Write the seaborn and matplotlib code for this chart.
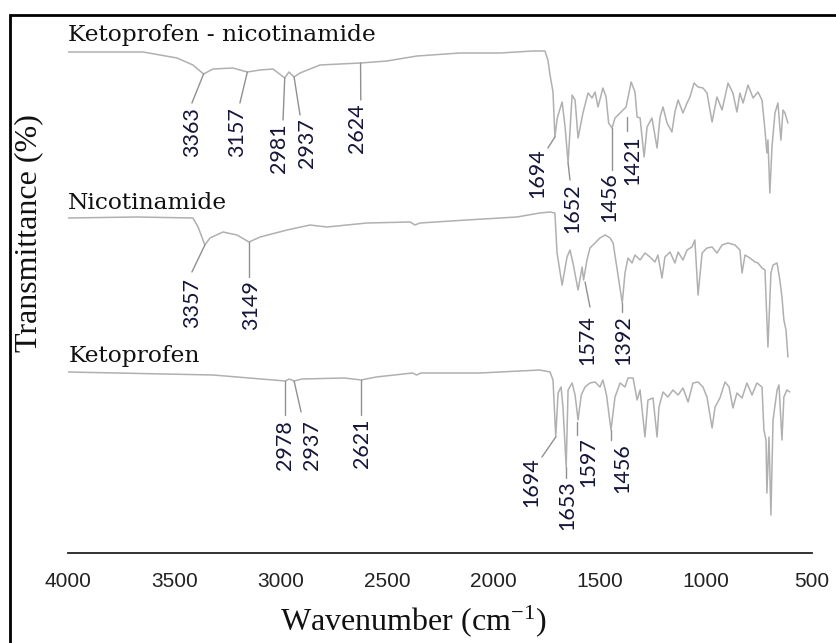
import matplotlib
matplotlib.use("Agg")
import matplotlib.pyplot as plt
import seaborn as sns
import pandas as pd
from matplotlib.patches import Rectangle
from matplotlib.ticker import MultipleLocator

# ---------------- data (wavenumber in cm-1, transmittance in stacked a.u.) ----------------
kn_wn = [4000, 3648, 3488, 3413, 3363, 3319, 3225, 3157, 3097, 3036,
         2981, 2961, 2937, 2909, 2815, 2721, 2624, 2500, 2358, 2156,
         1968, 1812, 1756, 1742, 1732, 1718, 1709, 1698, 1675, 1661,
         1647, 1628, 1614, 1600, 1577, 1553, 1534, 1520, 1506, 1483,
         1468, 1456, 1440, 1426, 1402, 1374, 1350, 1332, 1322, 1308,
         1289, 1275, 1252, 1228, 1214, 1200, 1181, 1158, 1144, 1129,
         1106, 1087, 1073, 1054, 1035, 1012, 993, 969, 946, 922,
         894, 871, 852, 838, 823, 800, 776, 753, 734, 720,
         711, 706, 697, 687, 673, 659, 645, 635, 626, 612]
kn_t = [501, 501, 495, 488, 479, 484, 485, 481, 483, 484,
        475, 481, 476, 480, 488, 489, 490, 492, 497, 500,
        500, 502, 502, 493, 478, 461, 416, 435, 451, 426,
        390, 458, 453, 415, 440, 460, 455, 461, 446, 465,
        456, 430, 425, 435, 440, 446, 471, 461, 436, 435,
        396, 426, 435, 405, 436, 446, 430, 421, 441, 453,
        440, 450, 456, 470, 466, 465, 460, 431, 456, 443,
        470, 460, 441, 460, 450, 468, 455, 461, 453, 423,
        400, 413, 360, 406, 440, 450, 413, 443, 440, 430]

nic_wn = [4000, 3677, 3413, 3389, 3357, 3333, 3272, 3206, 3149, 3097,
          2970, 2862, 2782, 2594, 2391, 2368, 2344, 2123, 1888, 1780,
          1732, 1709, 1699, 1675, 1652, 1638, 1624, 1600, 1581, 1574,
          1558, 1544, 1520, 1497, 1473, 1449, 1435, 1417, 1392, 1379,
          1365, 1346, 1332, 1308, 1285, 1261, 1238, 1224, 1205, 1191,
          1167, 1144, 1129, 1106, 1087, 1064, 1050, 1035, 1016, 993,
          969, 946, 922, 894, 861, 838, 828, 814, 791, 767,
          753, 734, 720, 706, 692, 682, 663, 650, 640, 631,
          621, 612]
nic_t = [335, 336, 335, 326, 308, 315, 321, 318, 311, 316,
         323, 328, 326, 330, 331, 328, 330, 333, 336, 340,
         341, 340, 300, 268, 296, 303, 290, 263, 286, 273,
         293, 305, 310, 315, 318, 315, 310, 285, 250, 280,
         295, 290, 298, 293, 300, 296, 291, 298, 275, 296,
         301, 290, 301, 293, 303, 306, 313, 258, 300, 305,
         306, 300, 308, 310, 308, 303, 280, 298, 295, 291,
         290, 285, 283, 206, 280, 288, 290, 273, 256, 233,
         223, 196]

keto_wn = [4000, 3319, 2978, 2960, 2937, 2900, 2700, 2621, 2550, 2380,
           2360, 2340, 2062, 1780, 1732, 1718, 1705, 1694, 1680, 1671,
           1656, 1647, 1628, 1614, 1600, 1585, 1567, 1544, 1520, 1497,
           1483, 1466, 1445, 1426, 1402, 1379, 1365, 1341, 1322, 1308,
           1285, 1271, 1247, 1228, 1219, 1200, 1177, 1153, 1129, 1106,
           1082, 1059, 1035, 1012, 993, 969, 955, 932, 908, 889,
           871, 852, 828, 805, 781, 758, 734, 725, 715, 711,
           701, 692, 682, 663, 654, 640, 631, 617, 603]
keto_t = [181, 178, 172, 174, 172, 174, 175, 173, 176, 180,
          178, 180, 180, 183, 181, 173, 116, 160, 166, 146,
          86, 163, 170, 158, 133, 158, 166, 170, 171, 166,
          173, 158, 123, 156, 170, 166, 175, 175, 153, 163,
          116, 153, 155, 116, 146, 161, 156, 163, 158, 165,
          151, 170, 171, 166, 156, 125, 146, 155, 171, 166,
          145, 160, 155, 170, 158, 170, 166, 123, 113, 60,
          116, 38, 133, 163, 168, 113, 156, 163, 161]

sample_names = ["Ketoprofen - nicotinamide", "Nicotinamide", "Ketoprofen"]
peak_labels = ["3363", "3157", "2981", "2937", "2624", "1694", "1652", "1456", "1421",
               "3357", "3149", "1574", "1392",
               "2978", "2937", "2621", "1694", "1653", "1597", "1456"]
x_ticks = [4000, 3500, 3000, 2500, 2000, 1500, 1000, 500]

# ---------------- layout (leader x0,y0 -> x1,y1 ; text x, text top) ----------------
peak_layout = [
    (3363, 479, 3418, 450, 3418, 446),
    (3157, 481, 3192, 450, 3206, 446),
    (2981, 475, 2989, 433, 3008, 430),
    (2937, 476, 2909, 438, 2876, 435),
    (2624, 490, 2623, 453, 2640, 450),
    (1709, 416, 1742, 405, 1793, 405),
    (1647, 390, 1638, 373, 1628, 370),
    (1440, 425, 1440, 383, 1455, 381),
    (1370, 436, 1370, 422, 1346, 418),
    (3357, 308, 3418, 281, 3418, 275),
    (3149, 311, 3149, 276, 3140, 273),
    (1567, 271, 1544, 246, 1558, 238),
    (1392, 250, 1392, 241, 1389, 238),
    (2978, 172, 2978, 138, 2978, 133),
    (2937, 172, 2904, 141, 2852, 133),
    (2621, 173, 2621, 138, 2617, 135),
    (1705, 116, 1770, 96, 1822, 96),
    (1656, 86, 1656, 75, 1652, 73),
    (1604, 131, 1604, 118, 1553, 116),
    (1445, 123, 1445, 113, 1393, 110),
]
name_y = [518, 350, 197]

sns.set_style("white")
plt.rcParams["font.family"] = ["DejaVu Sans"]
plt.rcParams["mathtext.fontset"] = "stix"

W, H = 837, 643
fig = plt.figure(figsize=(W / 100, H / 100), dpi=100)
ax = fig.add_axes([68.3 / W, 90 / H, (811.7 - 68.3) / W, 538 / H])

trace_color = "#b0b0b0"
frames = [
    pd.DataFrame({"wavenumber": kn_wn, "T": kn_t}),
    pd.DataFrame({"wavenumber": nic_wn, "T": nic_t}),
    pd.DataFrame({"wavenumber": keto_wn, "T": keto_t}),
]
for df in frames:
    sns.lineplot(data=df, x="wavenumber", y="T", ax=ax, color=trace_color,
                 linewidth=1.1, estimator=None, sort=False, legend=False)

ax.set_xlim(4000, 500)
ax.set_ylim(0, 538)
ax.set_xticks(x_ticks)
ax.xaxis.set_minor_locator(MultipleLocator(250))
ax.set_yticks([])
ax.set_xlabel("")
ax.set_ylabel("")
for s in ["top", "left", "right"]:
    ax.spines[s].set_visible(False)
ax.spines["bottom"].set_color("#222222")
ax.spines["bottom"].set_linewidth(1.3)
ax.tick_params(axis="x", which="major", direction="out", length=7, width=1.2,
               color="#222222", pad=7, labelsize=15, labelcolor="#222222")
ax.tick_params(axis="x", which="minor", direction="out", length=3.5, width=1.0,
               color="#222222")
for lab in ax.get_xticklabels():
    lab.set_fontfamily("Liberation Sans")

# leader lines + peak labels
for lab, (x0, y0, x1, y1, tx, ty) in zip(peak_labels, peak_layout):
    ax.plot([x0, x1], [y0, y1], color="#909090", linewidth=1.0)
    ax.text(tx, ty, lab, rotation=90, ha="center", va="top", fontsize=15.5,
            family="Lato", color="#15153a")

# sample names
for name, y in zip(sample_names, name_y):
    ax.text(4000, y, name, ha="left", va="center", fontsize=16.8,
            family="DejaVu Serif", color="#111111")

# axis titles
fig.text(29 / W, 1 - 233 / H, "Transmittance (%)", rotation=90, ha="center",
         va="center", fontsize=23, family="Liberation Serif", color="#111111")
fig.text(414 / W, 1 - 622 / H, r"Wavenumber (cm$^{\mathregular{-1}}$)", ha="center",
         va="center", fontsize=23, family="Liberation Serif", color="#111111")

# outer frame
fig.patches.append(Rectangle((10.5 / W, -0.05), 1.2, 1 - 15 / H + 0.05,
                             transform=fig.transFigure, fill=False,
                             edgecolor="black", linewidth=2.0))

fig.savefig("out.png", dpi=100)
